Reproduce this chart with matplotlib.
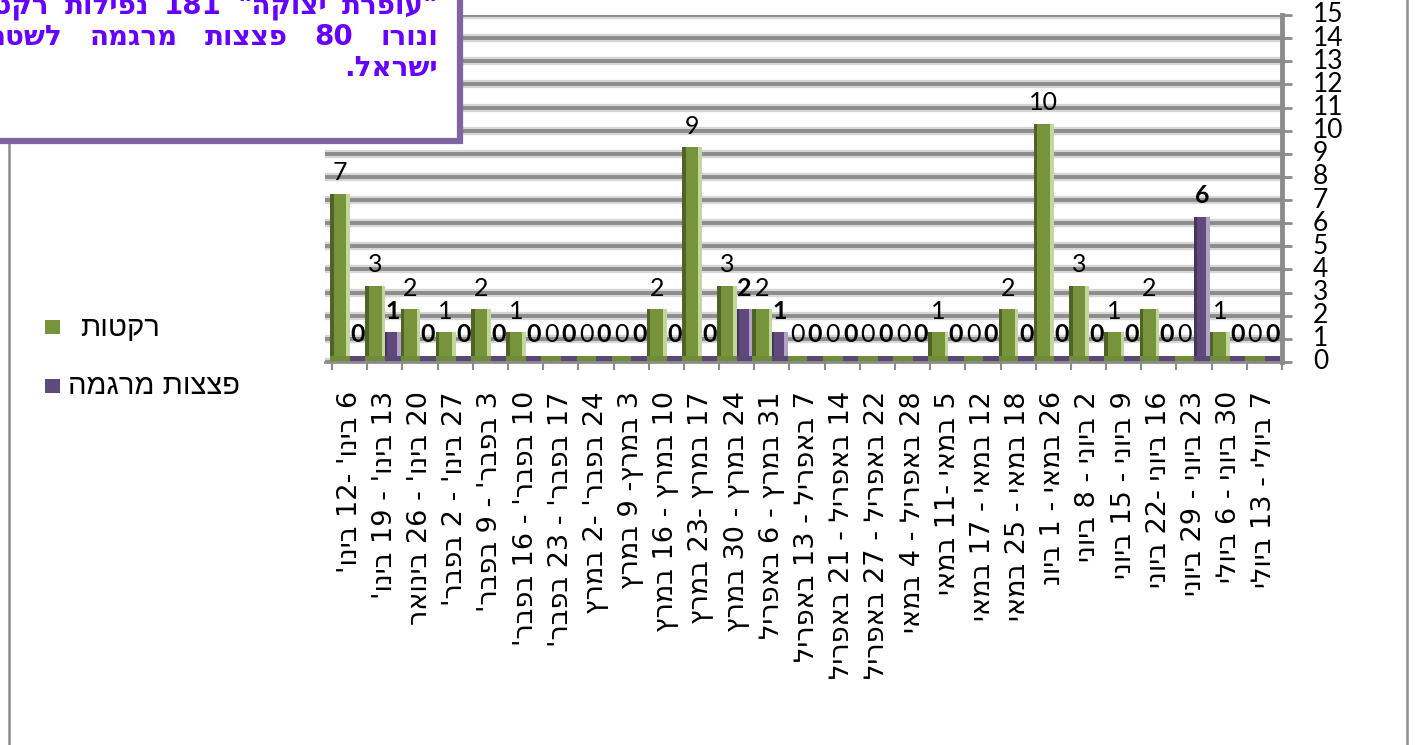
import re
import numpy as np
import matplotlib
matplotlib.use('Agg')
import matplotlib.pyplot as plt
from matplotlib.patches import Rectangle
from matplotlib.lines import Line2D
from matplotlib.transforms import offset_copy
import matplotlib.patheffects as pe

# ---------------- data ----------------
weeks = [
    "6 בינו' -12 בינו'",
    "13 בינו' - 19 בינו'",
    "20 בינו' - 26 בינואר",
    "27 בינו' - 2 בפבר'",
    "3 בפבר' - 9 בפבר'",
    "10 בפבר' - 16 בפבר'",
    "17 בפבר' - 23 בפבר'",
    "24 בפבר' -2 במרץ",
    "3 במרץ- 9 במרץ",
    "10 במרץ - 16 במרץ",
    "17 במרץ -23 במרץ",
    "24 במרץ - 30 במרץ",
    "31 במרץ - 6 באפריל",
    "7 באפריל - 13 באפריל",
    "14 באפריל - 21 באפריל",
    "22 באפריל - 27 באפריל",
    "28 באפריל - 4 במאי",
    "5 במאי -11 במאי",
    "12 במאי - 17 במאי",
    "18 במאי - 25 במאי",
    "26 במאי - 1 ביונ",
    "2 ביוני - 8 ביוני",
    "9 ביוני - 15 ביוני",
    "16 ביוני -22 ביוני",
    "23 ביוני - 29 ביוני",
    "30 ביוני - 6 ביולי",
    "7 ביולי - 13 ביולי",
]
rockets = [7, 3, 2, 1, 2, 1, 0, 0, 0, 2, 9, 3, 2, 0, 0, 0, 0, 1, 0, 2, 10, 3, 1, 2, 0, 1, 0]
mortars = [0, 1, 0, 0, 0, 0, 0, 0, 0, 0, 0, 2, 1, 0, 0, 0, 0, 0, 0, 0, 0, 0, 0, 0, 6, 0, 0]
series_names = ["רקטות", "פצצות מרגמה"]
y_ticks = list(range(0, 16))
note_lines = ['"עופרת יצוקה" 181 נפילות רקטות', "ונורו 80 פצצות מרגמה לשטח", "ישראל."]


def visual(s):
    """Simple RTL reordering: reverse, keeping digit runs left-to-right."""
    return "".join(reversed(re.findall(r"\d+|\D", s)))


HEB = ["Liberation Sans", "DejaVu Sans"]
HEB_WIDE = ["DejaVu Sans"]
NUM = ["Lato", "DejaVu Sans"]

GREEN = "#77933C"
GREEN_DARK = "#4F6228"
GREEN_LIGHT = "#C3D69B"
PURPLE = "#604A7B"
PURPLE_DARK = "#45355A"
PURPLE_LIGHT = "#B3A2C7"
GRID = "#8C8C8C"
NOTE = "#6600FF"
BORDER = "#8064A2"

W, H = 1416, 745
fig = plt.figure(figsize=(W / 100, H / 100), dpi=100)
fig.patch.set_facecolor("white")


def fx(p):
    return p / W


def fy(p):
    return 1 - p / H


ax = fig.add_axes([fx(325), fy(362), fx(1282) - fx(325), fy(15) - fy(362)])
n = len(weeks)
x = np.arange(n)
ax.set_xlim(-0.7, n - 0.5)
ax.set_ylim(0, 15)

FLOOR = 0.28
gw, pw = 0.56, 0.44
gx = x - 0.27
px_ = x + 0.23

# floor strips (3D floor look)
ax.bar(gx, FLOOR, width=gw, color="#6F8C3B", zorder=2)
ax.bar(px_, FLOOR, width=pw, color="#5B4877", zorder=2)

# green bars with shading
ax.bar(gx, rockets, bottom=FLOOR, width=gw, color=GREEN, zorder=3)
ax.bar(gx - gw / 2 + 0.05, rockets, bottom=FLOOR, width=0.10, color=GREEN_DARK, zorder=3)
ax.bar(gx + gw / 2 - 0.05, rockets, bottom=FLOOR, width=0.10, color=GREEN_LIGHT, zorder=3)
# purple bars with shading
ax.bar(px_, mortars, bottom=FLOOR, width=pw, color=PURPLE, zorder=3)
ax.bar(px_ - pw / 2 + 0.03, mortars, bottom=FLOOR, width=0.06, color=PURPLE_DARK, zorder=3)
ax.bar(px_ + pw / 2 - 0.05, mortars, bottom=FLOOR, width=0.10, color=PURPLE_LIGHT, zorder=3)

# data labels
for xi, v in zip(gx, rockets):
    ax.annotate(str(v), (xi, v + FLOOR), xytext=(0, 7), textcoords="offset points",
                ha="center", va="bottom", fontsize=18, family=NUM, zorder=5)
for xi, v in zip(px_, mortars):
    ax.annotate(str(v), (xi, v + FLOOR), xytext=(0, 7), textcoords="offset points",
                ha="center", va="bottom", fontsize=18, family=NUM, fontweight="bold", zorder=5)

# grid
ax.set_axisbelow(True)
ax.set_yticks(y_ticks)
ax.grid(axis="y", color=GRID, lw=2.8)
for gl in ax.yaxis.get_gridlines():
    gl.set_path_effects([pe.Stroke(linewidth=6, foreground="#D6D6D6"), pe.Normal()])

# axes styling
for s in ("left", "top"):
    ax.spines[s].set_visible(False)
ax.spines["right"].set_color(GRID)
ax.spines["right"].set_linewidth(3.5)
ax.spines["bottom"].set_color(GRID)
ax.spines["bottom"].set_linewidth(2)

# right value axis: tick marks + labels placed well clear of the axis line
ax.yaxis.tick_right()
ax.tick_params(axis="y", length=7, width=2, color=GRID, right=True, left=False,
               labelright=False, labelleft=False)
ylab_trans = offset_copy(ax.get_yaxis_transform(), fig=fig, x=31, y=0, units="dots")
for t in y_ticks:
    ax.text(1.0, t, str(t), transform=ylab_trans, ha="left", va="center",
            fontsize=19, family=NUM, clip_on=False)

ax.set_xticks(np.arange(-0.5, n, 1.0))
ax.set_xticklabels([])
ax.tick_params(axis="x", which="major", length=6, width=1.5, color=GRID)
ax.set_xticks(x, minor=True)
ax.set_xticklabels([visual(w) for w in weeks], minor=True, rotation=90,
                   fontsize=19.5, family=HEB_WIDE, va="top", ha="center")
ax.tick_params(axis="x", which="minor", length=0, pad=21)

# legend (custom, like Excel's)
fig.add_artist(Rectangle((fx(45), fy(334)), fx(15), 14 / H, transform=fig.transFigure,
                         facecolor=GREEN, edgecolor="none"))
fig.text(fx(80), fy(328), visual(series_names[0]), ha="left", va="center",
         fontsize=21, family=HEB)
fig.add_artist(Rectangle((fx(45), fy(393)), fx(15), 14 / H, transform=fig.transFigure,
                         facecolor=PURPLE, edgecolor="none"))
fig.text(fx(68), fy(386), visual(series_names[1]), ha="left", va="center",
         fontsize=21, family=HEB)

# outer chart frame lines
fig.add_artist(Line2D([fx(9), fx(9)], [0, fy(140)], color="#8C8C8C", lw=1.8,
                      transform=fig.transFigure))
fig.add_artist(Line2D([fx(1407), fx(1407)], [0, 1], color="#8C8C8C", lw=1.8,
                      transform=fig.transFigure))

# note box
fig.add_artist(Rectangle((fx(-40), fy(141)), 500 / W, 200 / H, transform=fig.transFigure,
                         facecolor="white", edgecolor=BORDER, lw=4.5, zorder=10))

renderer = fig.canvas.get_renderer()
R_EDGE = 438
baselines = [14, 45, 76]
word_gaps = [15, 27, 0]
for li, (line, by, gap) in enumerate(zip(note_lines, baselines, word_gaps)):
    vis = visual(line)
    words = vis.split(" ") if li < len(note_lines) - 1 else [vis]
    texts = [fig.text(0, fy(by), w, ha="left", va="baseline", fontsize=20,
                      fontweight="bold", family=HEB_WIDE, color=NOTE, zorder=11)
             for w in words]
    widths = [t.get_window_extent(renderer).width for t in texts]
    cur = R_EDGE
    for t, wd in zip(reversed(texts), reversed(widths)):
        cur -= wd
        t.set_x(fx(cur))
        cur -= gap

fig.savefig("out.png", dpi=100)
